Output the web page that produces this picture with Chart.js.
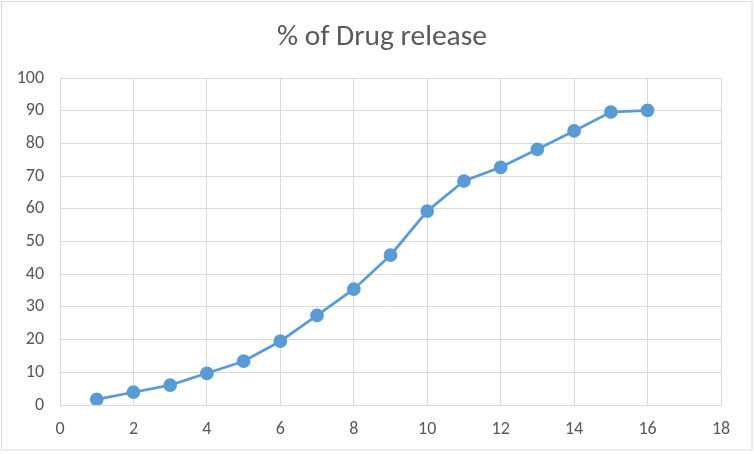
<!DOCTYPE html>
<html>
<head>
<meta charset="utf-8">
<script src="https://cdn.jsdelivr.net/npm/chart.js@4"></script>
<style>
  html, body { margin: 0; padding: 0; background: #fff; }
  #wrap { width: 754px; height: 454px; position: relative; }
</style>
</head>
<body>
<div id="wrap"><canvas id="releaseChart" width="754" height="454"></canvas></div>
<script>
// time points and % released
const hours = [1, 2, 3, 4, 5, 6, 7, 8, 9, 10, 11, 12, 13, 14, 15, 16];
const released = [1.7, 3.9, 6.1, 9.7, 13.4, 19.5, 27.4, 35.4, 45.8, 59.3, 68.5, 72.7, 78.2, 83.8, 89.6, 90.1];
const xTicks = [0, 2, 4, 6, 8, 10, 12, 14, 16, 18];
const yTicks = [0, 10, 20, 30, 40, 50, 60, 70, 80, 90, 100];
const chartTitle = "% of Drug release";

const fontFamily = "Carlito, Calibri, 'Open Sans', 'Noto Sans', sans-serif";
const textColor = "#595959";
const gridColor = "#d9d9d9";

// Excel centres the title on the whole chart box, not the plot area,
// so draw it here plus the thin grey frame round the chart
const frame = {
  id: "frame",
  afterDraw(chart) {
    const c = chart.ctx;
    c.save();
    c.strokeStyle = "#d9d9d9";
    c.lineWidth = 1;
    c.strokeRect(1.5, 1.5, 750.5, 448.5);
    c.fillStyle = textColor;
    c.font = "29.5px " + fontFamily;
    c.textAlign = "center";
    c.textBaseline = "alphabetic";
    c.fillText(chartTitle, 382, 45);
    c.restore();
  },
};

const ctx = document.getElementById("releaseChart").getContext("2d");
new Chart(ctx, {
  type: "scatter",
  data: {
    datasets: [
      {
        label: chartTitle,
        data: hours.map((h, i) => ({ x: h, y: released[i] })),
        showLine: true,
        borderColor: "#5b9bd5",
        backgroundColor: "#5b9bd5",
        borderWidth: 2.75,
        pointRadius: 5.5,
        pointHoverRadius: 5.5,
        tension: 0,
      },
    ],
  },
  options: {
    responsive: false,
    animation: false,
    layout: { padding: { left: 0, right: 33, top: 78, bottom: 0 } },
    plugins: {
      legend: { display: false },
      tooltip: { enabled: false },
      title: { display: false },
    },
    scales: {
      x: {
        type: "linear",
        min: 0,
        max: 18,
        afterBuildTicks(axis) {
          axis.ticks = xTicks.map((v) => ({ value: v }));
        },
        afterFit(axis) {
          axis.height = 49;
        },
        grid: { color: gridColor, drawTicks: false },
        border: { color: gridColor },
        ticks: {
          color: textColor,
          font: { family: fontFamily, size: 18 },
          padding: 14,
        },
      },
      y: {
        type: "linear",
        min: 0,
        max: 100,
        afterBuildTicks(axis) {
          axis.ticks = yTicks.map((v) => ({ value: v }));
        },
        afterFit(axis) {
          axis.width = 60;
        },
        grid: { color: gridColor, drawTicks: false },
        border: { display: false },
        ticks: {
          color: textColor,
          font: { family: fontFamily, size: 18 },
          padding: 16,
        },
      },
    },
  },
  plugins: [frame],
});
</script>
</body>
</html>
